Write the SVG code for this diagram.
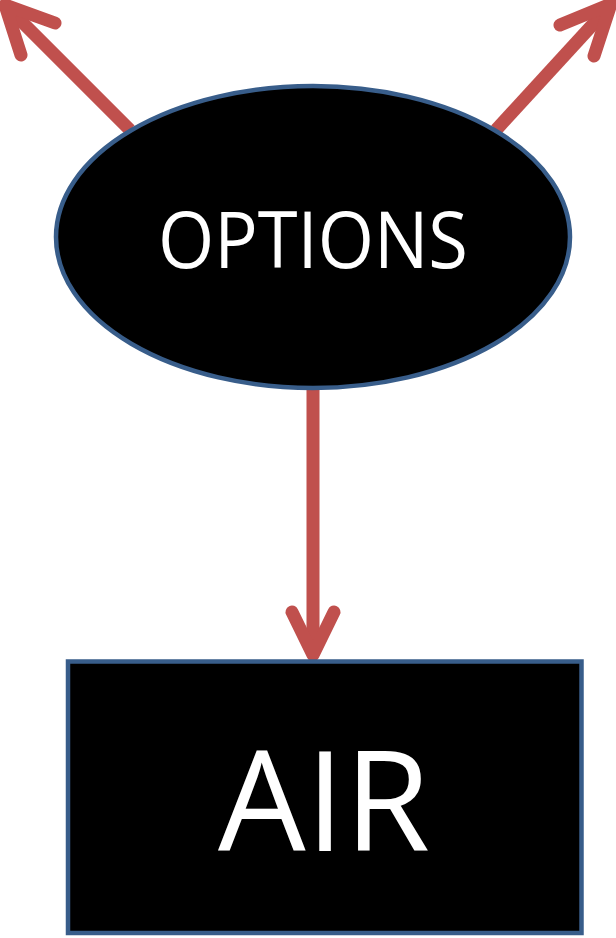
<svg xmlns="http://www.w3.org/2000/svg" width="616" height="938" viewBox="0 0 616 938">
<style>
.arrow{fill:none;stroke:#C0504D;stroke-width:13;stroke-linecap:round;stroke-linejoin:round}
.shaft{fill:none;stroke:#C0504D;stroke-width:13;stroke-linecap:butt}
.node{fill:#000;stroke:#385D8A;stroke-width:4.5}
.lbl{fill:#fff;font-family:"Open Sans","Liberation Sans",sans-serif;text-anchor:middle}
</style>
<g id="connectors">
<line class="shaft" x1="130" y1="130" x2="9" y2="9"/>
<polyline class="arrow" points="55,23 5,5 21,55"/>
<line class="shaft" x1="496" y1="130" x2="607" y2="9"/>
<polyline class="arrow" points="560,25 611,4 594,56"/>
<line class="shaft" x1="313" y1="390" x2="313" y2="648"/>
<polyline class="arrow" points="292,612 313,655 334,612"/>
</g>
<g id="options">
<ellipse class="node" cx="313" cy="237" rx="257" ry="151"/>
<text class="lbl" x="313" y="268" font-size="78" textLength="310" lengthAdjust="spacingAndGlyphs">OPTIONS</text>
</g>
<g id="air">
<rect class="node" x="68" y="661.5" width="513.5" height="271.5" stroke-width="5"/>
<text class="lbl" x="324" y="851" font-size="139" textLength="212" lengthAdjust="spacingAndGlyphs">AIR</text>
</g>
</svg>
